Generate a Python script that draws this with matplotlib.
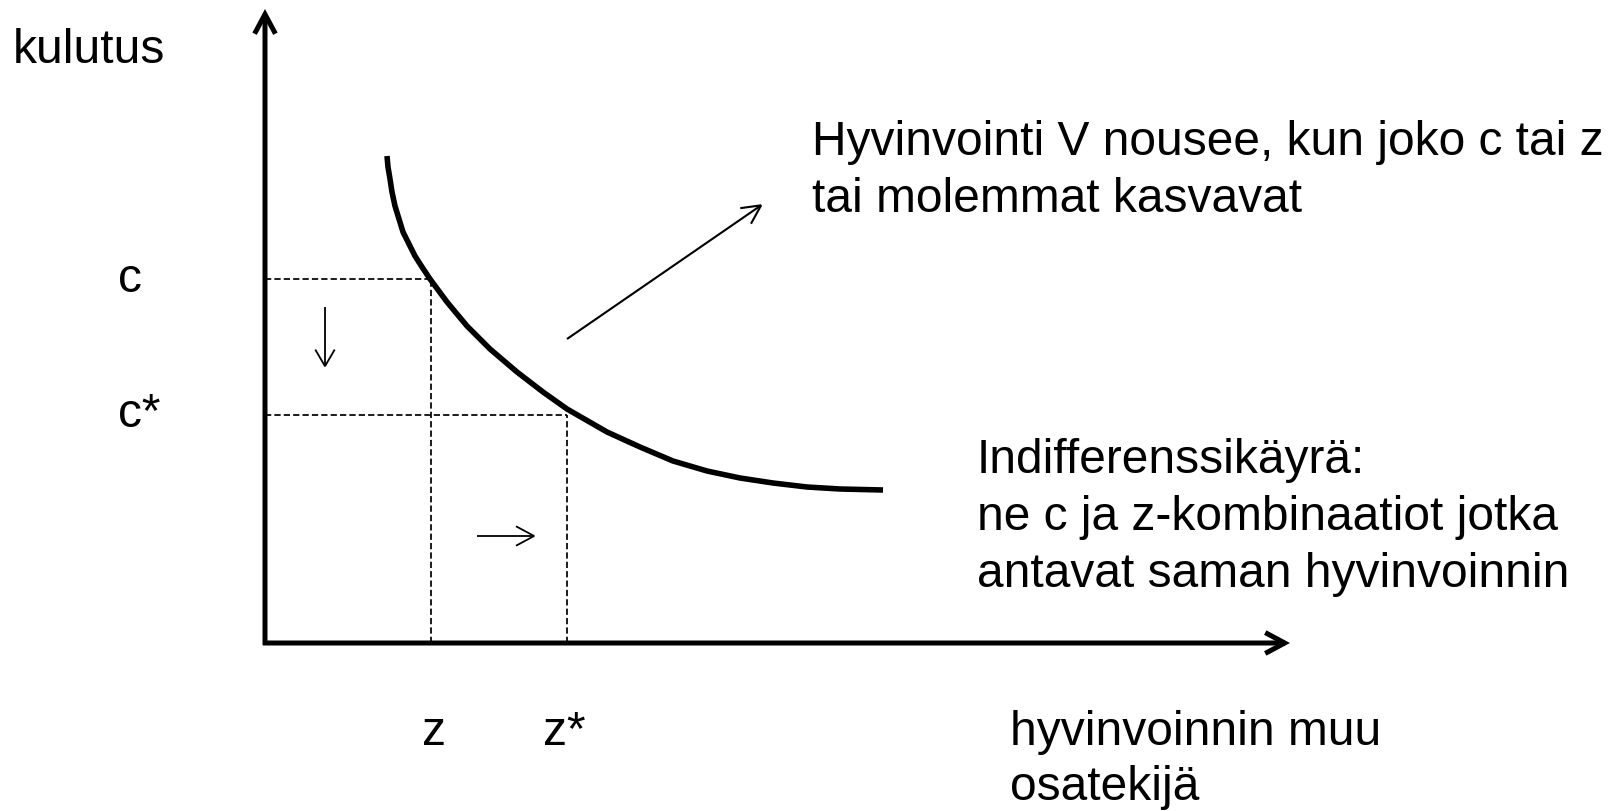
import matplotlib
matplotlib.use("Agg")
import matplotlib.pyplot as plt
from matplotlib.patches import FancyArrowPatch

plt.rcParams["font.family"] = ["Liberation Sans", "DejaVu Sans"]

# indifference curve (z = other factor, c = consumption)
z_curve = [122, 123, 125, 127, 130, 134, 138, 144, 150, 157, 165, 182, 202, 225,
           252, 278, 302, 342, 375, 408, 442, 475, 508, 542, 575, 618]
c_curve = [487, 476, 464, 451, 437, 424, 411, 399, 387, 376, 364, 341, 317, 294,
           271, 251, 234, 211, 196, 182, 172, 165, 160, 156, 154, 153]

# the two points on the curve: (z, c) and (z*, c*)
z_levels = [166, 302]
c_levels = [364, 228]
z_labels = ["z", "z*"]
c_labels = ["c", "c*"]

y_label = "kulutus"
x_label = ["hyvinvoinnin muu", "osatekijä"]
note_up = ["Hyvinvointi V nousee, kun joko c tai z", "tai molemmat kasvavat"]
note_curve = ["Indifferenssikäyrä:", "ne c ja z-kombinaatiot jotka",
              "antavat saman hyvinvoinnin"]

fig = plt.figure(figsize=(16.19, 8.12), dpi=100)
ax = fig.add_axes([0, 0, 1, 1])
ax.set_xlim(-265, 1354)
ax.set_ylim(-168, 644)
ax.axis("off")

FS = 34.5


def arrow(p0, p1, lw, hl, hw):
    ax.add_patch(FancyArrowPatch(p0, p1, arrowstyle=f"->,head_length={hl},head_width={hw}",
                                 mutation_scale=1, lw=lw, color="black",
                                 shrinkA=0, shrinkB=0, joinstyle="miter", capstyle="butt"))


# axes with arrow heads
arrow((0, -2), (0, 634), 3.6, 14, 7.5)
arrow((-2, 0), (1025, 0), 3.6, 14, 7.5)

# dashed guide lines
dash = (0, (3.6, 1.8))
for zl, cl in zip(z_levels, c_levels):
    ax.plot([0, zl], [cl, cl], color="black", lw=1.25, linestyle=dash)
    ax.plot([zl, zl], [0, cl], color="black", lw=1.25, linestyle=dash)

# the curve
ax.plot(z_curve, c_curve, color="black", lw=4, solid_capstyle="butt",
        solid_joinstyle="round")

# direction arrows
arrow((302, 304), (498, 439), 1.5, 13.5, 6.8)
arrow((60, 336), (60, 275), 1.3, 12, 7)
arrow((212, 107), (271, 107), 1.3, 13, 7)

# labels
ax.text(-252, 581, y_label, fontsize=FS, ha="left", va="baseline")
for lab, cl in zip(c_labels, [352, 217]):
    ax.text(-147, cl, lab, fontsize=FS, ha="left", va="baseline")
for lab, zl in zip(z_labels, [157, 278]):
    ax.text(zl, -101, lab, fontsize=FS, ha="left", va="baseline")
for i, line in enumerate(x_label):
    ax.text(745, -101 - 55 * i, line, fontsize=FS, ha="left", va="baseline")
for i, line in enumerate(note_up):
    ax.text(547, 489 - 57 * i, line, fontsize=FS, ha="left", va="baseline")
for i, line in enumerate(note_curve):
    ax.text(712, 171 - 57 * i, line, fontsize=FS, ha="left", va="baseline")

fig.savefig("out.png", dpi=100)
